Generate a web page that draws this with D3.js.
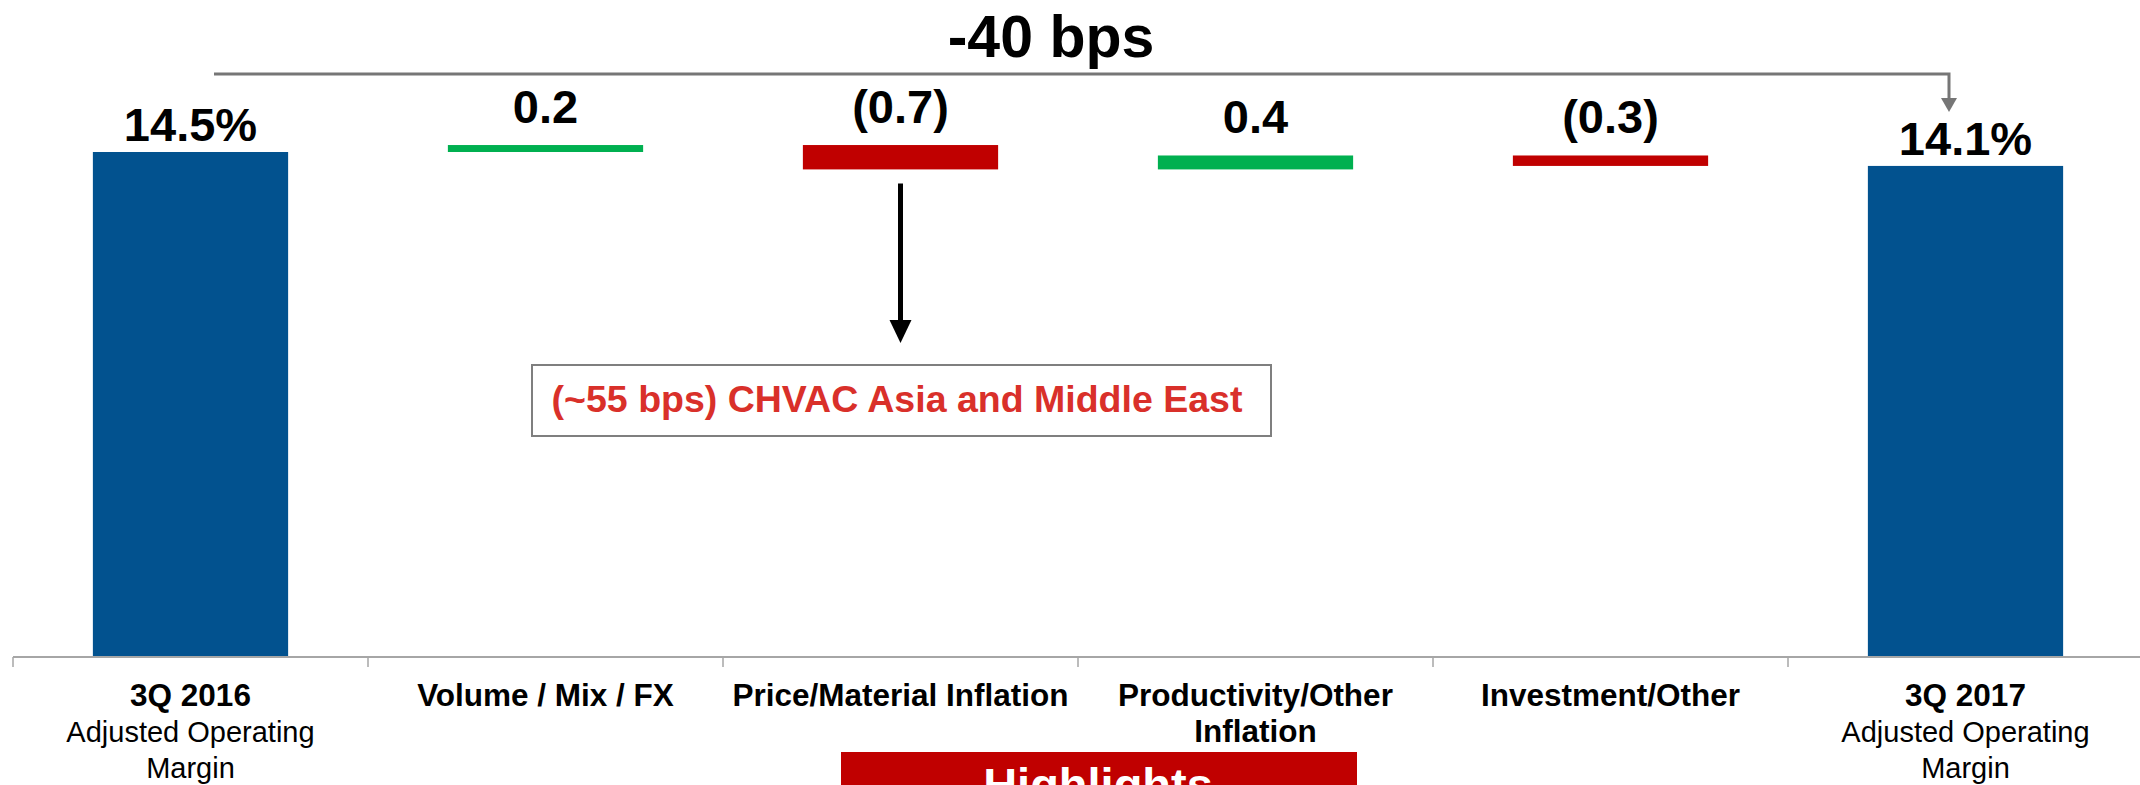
<!DOCTYPE html>
<html>
<head>
<meta charset="utf-8">
<script src="https://cdn.jsdelivr.net/npm/d3@7/dist/d3.min.js"></script>
<style>
  html, body { margin: 0; padding: 0; background: #ffffff; overflow: hidden; }
  svg { display: block; font-family: "Liberation Sans", Arial, sans-serif; }
</style>
</head>
<body>
<svg id="chart" width="2140" height="785"></svg>
<script>
// Margin bridge: 3Q 2016 -> 3Q 2017 adjusted operating margin (%)
const categories = ["3Q 2016", "Volume / Mix / FX", "Price/Material Inflation", "Productivity/Other Inflation", "Investment/Other", "3Q 2017"];
const categoryLines = [["3Q 2016"], ["Volume / Mix / FX"], ["Price/Material Inflation"], ["Productivity/Other", "Inflation"], ["Investment/Other"], ["3Q 2017"]];
const subLines = [["Adjusted Operating", "Margin"], [], [], [], [], ["Adjusted Operating", "Margin"]];
const kinds = ["total", "delta", "delta", "delta", "delta", "total"];
const values = [14.5, 0.2, -0.7, 0.4, -0.3, 14.1];
const valueLabels = ["14.5%", "0.2", "(0.7)", "0.4", "(0.3)", "14.1%"];
const changeLabel = "-40 bps";
const noteText = "(~55 bps) CHVAC Asia and Middle East";
const bannerText = "Highlights";

const colors = { total: "#02528f", up: "#00b050", down: "#c00000" };

const svg = d3.select("#chart");

// Running start/end of each step
let run = 0;
const steps = values.map((v, i) => {
  let start, end;
  if (kinds[i] === "total") { start = 0; end = v; run = v; }
  else { start = run; end = run + v; run = end; }
  return { cat: categories[i], kind: kinds[i], value: v, start, end, label: valueLabels[i], i };
});

const x = d3.scaleBand().domain(categories).range([13, 2143]).paddingInner(0).paddingOuter(0);
const y = d3.scaleLinear().domain([0, 14.5]).range([657, 152]);
const barW = x.bandwidth() * 0.55;
const cx = d => x(d) + x.bandwidth() / 2;

// Bars
svg.append("g").selectAll("rect").data(steps).join("rect")
  .attr("x", d => cx(d.cat) - barW / 2)
  .attr("width", barW)
  .attr("y", d => y(Math.max(d.start, d.end)))
  .attr("height", d => Math.abs(y(d.start) - y(d.end)))
  .attr("fill", d => d.kind === "total" ? colors.total : (d.value >= 0 ? colors.up : colors.down));

// Category axis
const axisG = svg.append("g").attr("transform", `translate(0,${y(0)})`);
axisG.append("line").attr("x1", x.range()[0]).attr("x2", 2140).attr("y1", 0).attr("y2", 0)
  .attr("stroke", "#a6a6a6").attr("stroke-width", 2);
axisG.selectAll("line.tick").data(categories).join("line").attr("class", "tick")
  .attr("x1", d => x(d)).attr("x2", d => x(d)).attr("y1", 0).attr("y2", 10)
  .attr("stroke", "#a6a6a6").attr("stroke-width", 1.5);

const catG = svg.append("g");
categories.forEach((c, i) => {
  const t = catG.append("text").attr("text-anchor", "middle").attr("fill", "#000");
  let line = 0;
  categoryLines[i].forEach(s => {
    t.append("tspan").attr("x", cx(c)).attr("y", 706 + line * 36)
      .attr("font-size", 31.5).attr("font-weight", "bold").text(s);
    line++;
  });
  subLines[i].forEach(s => {
    t.append("tspan").attr("x", cx(c)).attr("y", 706 + line * 36)
      .attr("font-size", 29).attr("font-weight", "normal").text(s);
    line++;
  });
});

// Value labels
svg.append("g").selectAll("text").data(steps).join("text")
  .attr("x", d => cx(d.cat))
  .attr("y", d => y(Math.max(d.start, d.end)) - (d.kind === "total" ? 11 : 22))
  .attr("text-anchor", "middle")
  .attr("font-size", 47).attr("font-weight", "bold").attr("fill", "#000")
  .text(d => d.label);

// Overall change bracket
const bx1 = 214, bx2 = 1949, by = 74;
const endTop = y(steps[5].end);
svg.append("path")
  .attr("d", `M${bx1},${by} H${bx2} V${endTop - 68}`)
  .attr("fill", "none").attr("stroke", "#767676").attr("stroke-width", 3);
svg.append("path")
  .attr("d", `M${bx2 - 8},${endTop - 68} L${bx2 + 8},${endTop - 68} L${bx2},${endTop - 54} Z`)
  .attr("fill", "#767676");
svg.append("text").attr("x", 1051).attr("y", 57).attr("text-anchor", "middle")
  .attr("font-size", 59).attr("font-weight", "bold").attr("fill", "#000").text(changeLabel);

// Callout arrow under the price/material step
const ax = cx(categories[2]);
const arrowTop = y(steps[2].end) + 14;
svg.append("line").attr("x1", ax).attr("x2", ax).attr("y1", arrowTop).attr("y2", 322)
  .attr("stroke", "#000").attr("stroke-width", 5);
svg.append("path").attr("d", `M${ax - 11},320 L${ax + 11},320 L${ax},343 Z`).attr("fill", "#000");

svg.append("rect").attr("x", 532).attr("y", 365).attr("width", 739).attr("height", 71)
  .attr("fill", "#fff").attr("stroke", "#7f7f7f").attr("stroke-width", 2);
svg.append("text").attr("x", 897).attr("y", 412).attr("text-anchor", "middle")
  .attr("font-size", 37.5).attr("font-weight", "bold").attr("fill", "#d9302a").text(noteText);

// Highlights banner
svg.append("rect").attr("x", 841).attr("y", 752).attr("width", 516).attr("height", 40).attr("fill", "#c00000");
svg.append("text").attr("x", 1098).attr("y", 801).attr("text-anchor", "middle")
  .attr("font-size", 47).attr("font-weight", "bold").attr("fill", "#fff").text(bannerText);
</script>
</body>
</html>
